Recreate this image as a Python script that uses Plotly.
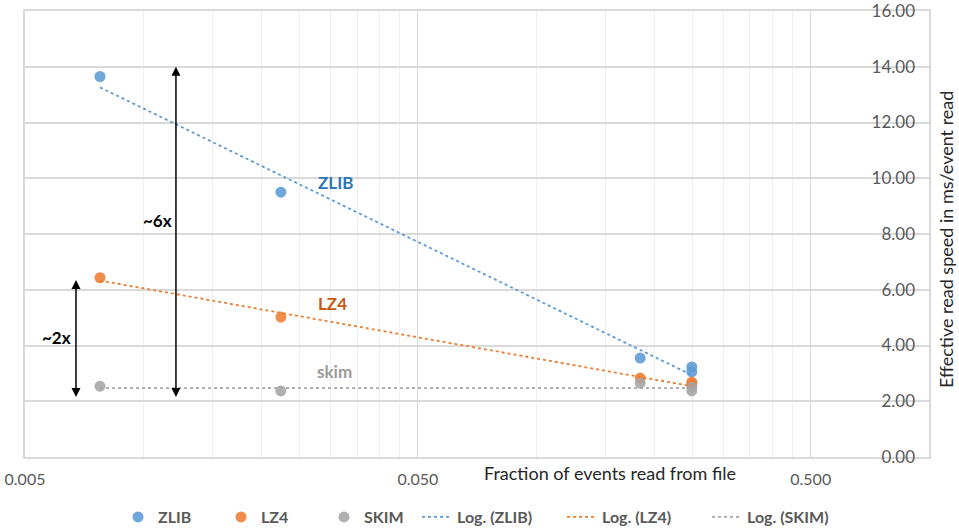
import math
import plotly.graph_objects as go

# ---- data ----
fraction = [0.00776, 0.0224, 0.184, 0.249, 0.249]
zlib = [13.65, 9.5, 3.55, 3.23, 3.05]
lz4_x = [0.00776, 0.0224, 0.184, 0.249, 0.249]
lz4 = [6.43, 5.02, 2.83, 2.69, 2.62]
skim_x = [0.00776, 0.0224, 0.184, 0.249, 0.249]
skim = [2.54, 2.37, 2.65, 2.5, 2.37]

trend_x = [0.00776, 0.249]
zlib_trend = [13.26, 2.94]
lz4_trend = [6.33, 2.54]
skim_trend = [2.47, 2.47]

x_ticks = [0.005, 0.05, 0.5]
x_ticktext = ["0.005", "0.050", "0.500"]
y_ticks = [0, 2, 4, 6, 8, 10, 12, 14, 16]

BLUE = "#5B9BD5"
ORANGE = "#ED7D31"
GRAY = "#A5A5A5"
FONT = "Lato"

L, R, T, B = 25, 30, 11, 73
PW = 959 - L - R
PH = 530 - T - B

minor_vals = [k * 0.005 * 10 ** n for n in range(3) for k in range(2, 10)]

fig = go.Figure()
mk = dict(size=11, opacity=0.88)
fig.add_trace(go.Scatter(x=fraction, y=zlib, mode="markers", name="ZLIB",
                         marker=dict(color=BLUE, **mk), legend="legend"))
fig.add_trace(go.Scatter(x=lz4_x, y=lz4, mode="markers", name="LZ4",
                         marker=dict(color=ORANGE, **mk), legend="legend"))
fig.add_trace(go.Scatter(x=skim_x, y=skim, mode="markers", name="SKIM",
                         marker=dict(color=GRAY, **mk), legend="legend"))
ln = dict(width=1.8, dash="dot")
fig.add_trace(go.Scatter(x=trend_x, y=zlib_trend, mode="lines", name="Log. (ZLIB)",
                         line=dict(color=BLUE, **ln), legend="legend2", yaxis="y2"))
fig.add_trace(go.Scatter(x=trend_x, y=lz4_trend, mode="lines", name="Log. (LZ4)",
                         line=dict(color=ORANGE, **ln), legend="legend2", yaxis="y2"))
fig.add_trace(go.Scatter(x=trend_x, y=skim_trend, mode="lines", name="Log. (SKIM)",
                         line=dict(color=GRAY, **ln), legend="legend2", yaxis="y2"))

lx0 = math.log10(0.005)

def lx(px):
    return lx0 + (px - L) / 393.0

def px_x(px):
    return (px - L) / PW

def px_y(py):
    return (530 - B - py) / PH

annotations = [
    dict(x=lx(336), y=9.86, text="<b>ZLIB</b>", font=dict(color="#2E75B6", size=17)),
    dict(x=lx(333), y=5.52, text="<b>LZ4</b>", font=dict(color="#C55A11", size=17)),
    dict(x=lx(335), y=3.08, text="<b>skim</b>", font=dict(color="#9A9A9A", size=17)),
    dict(x=lx(158), y=8.49, text="<b>~6x</b>", font=dict(color="black", size=17)),
    dict(x=lx(57), y=4.30, text="<b>~2x</b>", font=dict(color="black", size=17)),
]
for a in annotations:
    a.update(xref="x", yref="y", showarrow=False, xanchor="center", yanchor="middle")

arrows = [
    dict(x=lx(176), y=14.0, ax=lx(176), ay=2.1),
    dict(x=lx(76), y=6.35, ax=lx(76), ay=2.1),
]
for a in arrows:
    a.update(xref="x", yref="y", axref="x", ayref="y", text="", showarrow=True,
             arrowhead=2, startarrowhead=2, arrowside="end+start", arrowsize=1.2,
             arrowwidth=1.5, arrowcolor="black")

titles = [
    dict(x=px_x(610), y=px_y(473), xref="paper", yref="paper",
         xanchor="center", yanchor="middle",
         text="Fraction of events read from file", showarrow=False,
         font=dict(size=18, color="#262626")),
    dict(x=px_x(946), y=px_y(240), xref="paper", yref="paper",
         xanchor="center", yanchor="middle",
         text="Effective read speed in ms/event read", showarrow=False, textangle=-90,
         font=dict(size=18, color="#262626")),
]

leg_font = dict(size=16, color="#595959", weight="bold")
fig.update_layout(
    width=959, height=530,
    margin=dict(l=L, r=R, t=T, b=B, autoexpand=False),
    paper_bgcolor="white", plot_bgcolor="white",
    font=dict(family=FONT, color="#595959"),
    annotations=annotations + arrows + titles,
    legend=dict(orientation="h", x=px_x(118), xanchor="left",
                y=px_y(517), yanchor="middle", entrywidth=58,
                font=leg_font, bgcolor="rgba(0,0,0,0)"),
    legend2=dict(orientation="h", x=px_x(417), xanchor="left",
                 y=px_y(517), yanchor="middle", entrywidth=100,
                 font=leg_font, bgcolor="rgba(0,0,0,0)"),
    showlegend=True,
)

fig.update_xaxes(
    type="log", range=[lx0, 0], tickvals=x_ticks, ticktext=x_ticktext,
    showgrid=True, gridcolor="#D9D9D9", gridwidth=1,
    showline=True, linecolor="#D9D9D9", linewidth=1.5, mirror=True,
    ticks="", tickfont=dict(size=16, color="#595959"), ticklabelstandoff=7,
    minor=dict(tickmode="array", tickvals=minor_vals, showgrid=True,
               gridcolor="#EFEFEF", gridwidth=1, ticks=""),
    zeroline=False, automargin=False,
)
fig.update_layout(
    yaxis=dict(
        range=[0, 16], tickvals=y_ticks, showticklabels=False, ticks="",
        showgrid=True, gridcolor="#D9D9D9", gridwidth=1.5,
        showline=True, linecolor="#D9D9D9", linewidth=1.5, mirror=True,
        zeroline=False, automargin=False,
    ),
    yaxis2=dict(
        overlaying="y", anchor="free", side="left", position=px_x(915),
        range=[0, 16], tickvals=y_ticks, tickformat=".2f", ticks="",
        showgrid=False, showline=False, zeroline=False, automargin=False,
        ticklabeloverflow="allow",
        tickfont=dict(size=17, color="#595959"),
    ),
)

fig.write_html("out.html", config={"displayModeBar": False},
               post_script="document.body.style.margin='0';")
